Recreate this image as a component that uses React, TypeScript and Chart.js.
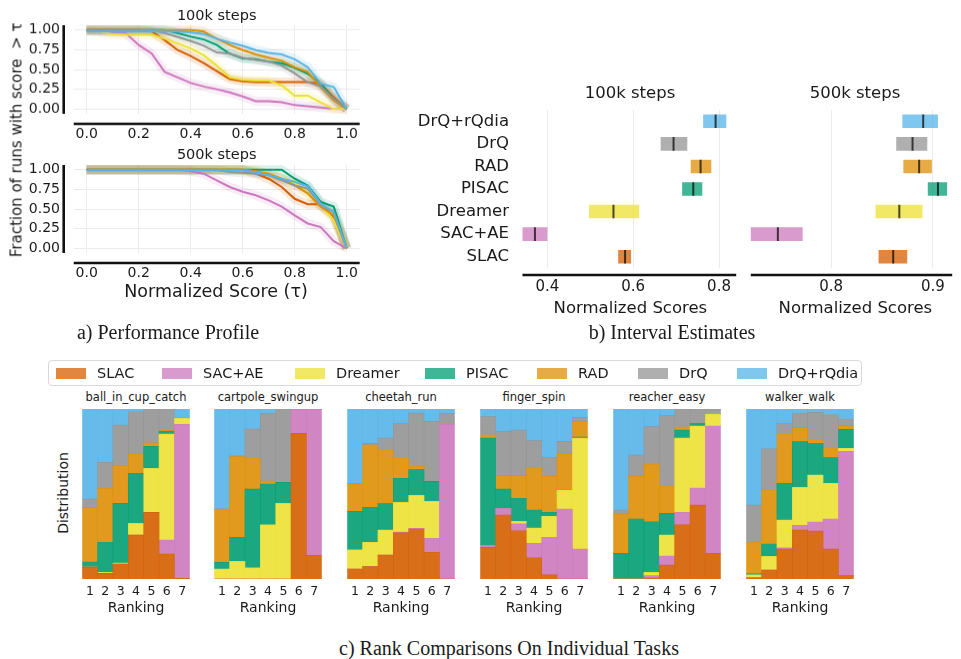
import React, { useEffect, useRef } from 'react';
import { Chart, registerables } from 'chart.js';

Chart.register(...registerables);
Chart.defaults.font.family = 'DejaVu Sans';
Chart.defaults.color = '#1a1a1a';

// ---------------- data ----------------
const ALGOS = ['SLAC', 'SAC+AE', 'Dreamer', 'PISAC', 'RAD', 'DrQ', 'DrQ+rQdia'];
const BASE_COLORS = ['#d55e00', '#cc78bc', '#ece133', '#029e73', '#de8f05', '#949494', '#56b4e9'];

// Performance profiles
const TAU = [0, 0.05, 0.1, 0.15, 0.2, 0.25, 0.3, 0.35, 0.4, 0.45, 0.5, 0.55, 0.6, 0.65, 0.7, 0.75, 0.8, 0.85, 0.9, 0.95, 1.0];
const PROFILE_X_TICKS = [0, 0.2, 0.4, 0.6, 0.8, 1.0];
const PROFILE_Y_TICKS = [0, 0.25, 0.5, 0.75, 1.0];

const P100K_SLAC = [1, 1, 1, 1, 1, 0.98, 0.87, 0.745, 0.67, 0.58, 0.48, 0.38, 0.35, 0.34, 0.34, 0.34, 0.34, 0.34, 0.32, 0.15, 0];
const P100K_SACAE = [1, 0.98, 0.97, 0.96, 0.81, 0.7, 0.47, 0.4, 0.33, 0.285, 0.25, 0.21, 0.16, 0.1, 0.1, 0.085, 0.05, 0.035, 0.02, 0.005, 0];
const P100K_DREAMER = [0.99, 0.98, 0.945, 0.94, 0.94, 0.94, 0.89, 0.83, 0.765, 0.68, 0.55, 0.4, 0.37, 0.36, 0.36, 0.3, 0.17, 0.17, 0.085, 0, 0];
const P100K_PISAC = [1, 1, 1, 1, 1, 1, 1, 0.96, 0.915, 0.88, 0.81, 0.7, 0.64, 0.63, 0.6, 0.58, 0.52, 0.445, 0.32, 0.13, 0];
const P100K_RAD = [1, 1, 1, 1, 1, 1, 1, 1, 1, 0.98, 0.89, 0.81, 0.745, 0.69, 0.65, 0.61, 0.53, 0.47, 0.28, 0.11, 0];
const P100K_DRQ = [1, 1, 1, 1, 1, 1, 0.96, 0.91, 0.86, 0.8, 0.715, 0.7, 0.65, 0.62, 0.6, 0.55, 0.45, 0.34, 0.285, 0.13, 0];
const P100K_RQDIA = [0.98, 0.98, 0.98, 0.98, 0.98, 0.98, 0.98, 0.98, 0.97, 0.95, 0.89, 0.84, 0.8, 0.745, 0.71, 0.69, 0.63, 0.53, 0.32, 0.28, 0];

const P500K_SLAC = [1, 1, 1, 1, 1, 1, 1, 1, 1, 1, 1, 1, 1, 0.95, 0.885, 0.78, 0.63, 0.56, 0.56, 0.4, 0];
const P500K_SACAE = [1, 1, 1, 1, 1, 1, 1, 1, 0.98, 0.95, 0.865, 0.78, 0.72, 0.675, 0.61, 0.53, 0.42, 0.316, 0.27, 0.09, 0];
const P500K_DREAMER = [1, 1, 1, 1, 1, 1, 1, 1, 1, 1, 1, 1, 1, 1, 0.95, 0.885, 0.845, 0.7, 0.55, 0.36, 0];
const P500K_PISAC = [1, 1, 1, 1, 1, 1, 1, 1, 1, 1, 1, 1, 1, 1, 1, 1, 0.885, 0.8, 0.59, 0.53, 0];
const P500K_RAD = [1, 1, 1, 1, 1, 1, 1, 1, 1, 1, 1, 1, 1, 0.98, 0.95, 0.885, 0.8, 0.7, 0.53, 0.42, 0];
const P500K_DRQ = [1, 1, 1, 1, 1, 1, 1, 1, 1, 1, 1, 0.97, 0.96, 0.95, 0.93, 0.865, 0.8, 0.76, 0.55, 0.46, 0];
const P500K_RQDIA = [0.99, 0.99, 0.99, 0.99, 0.99, 0.99, 0.99, 0.99, 0.99, 0.99, 0.99, 0.99, 0.99, 0.97, 0.93, 0.885, 0.845, 0.79, 0.57, 0.46, 0];

// Interval estimates (ALGOS order)
const IE100K_LO = [0.565, 0.335, 0.497, 0.714, 0.734, 0.664, 0.763];
const IE100K_HI = [0.595, 0.4, 0.614, 0.761, 0.782, 0.726, 0.817];
const IE100K_MED = [0.581, 0.371, 0.554, 0.74, 0.757, 0.694, 0.792];
const IE500K_LO = [0.8466, 0.715, 0.8436, 0.895, 0.871, 0.864, 0.87];
const IE500K_HI = [0.8748, 0.772, 0.8898, 0.914, 0.899, 0.8945, 0.905];
const IE500K_MED = [0.861, 0.7476, 0.867, 0.905, 0.8865, 0.88, 0.8905];
const IE100K_TICKS = [0.4, 0.6, 0.8];
const IE500K_TICKS = [0.8, 0.9];

// Rank distributions: per algorithm (ALGOS order), probability of rank 1..7
const RANK_LABELS = ['1', '2', '3', '4', '5', '6', '7'];
const TASKS = ['ball_in_cup_catch', 'cartpole_swingup', 'cheetah_run', 'finger_spin', 'reacher_easy', 'walker_walk'];

const RANK_BALL_IN_CUP_CATCH = [
  [0.07, 0.033, 0.088, 0.259, 0.392, 0.147, 0.004],
  [0, 0, 0, 0, 0, 0.082, 0.906],
  [0, 0.006, 0.006, 0.068, 0.259, 0.624, 0.037],
  [0.03, 0.177, 0.351, 0.295, 0.129, 0.016, 0],
  [0.32, 0.317, 0.222, 0.117, 0.02, 0.004, 0],
  [0.05, 0.153, 0.239, 0.245, 0.2, 0.129, 0],
  [0.53, 0.314, 0.094, 0.016, 0, 0, 0.053],
];
const RANK_CARTPOLE_SWINGUP = [
  [0, 0, 0, 0, 0, 0.857, 0.139],
  [0, 0, 0, 0, 0, 0.143, 0.861],
  [0.059, 0.104, 0.065, 0.318, 0.445, 0, 0],
  [0.039, 0.141, 0.464, 0.241, 0.124, 0, 0],
  [0.314, 0.475, 0.183, 0.017, 0, 0, 0],
  [0, 0.005, 0.17, 0.399, 0.431, 0, 0],
  [0.588, 0.275, 0.118, 0.025, 0, 0, 0],
];
const RANK_CHEETAH_RUN = [
  [0.059, 0.073, 0.141, 0.271, 0.294, 0.157, 0],
  [0, 0, 0, 0.005, 0.004, 0.082, 0.912],
  [0.112, 0.143, 0.147, 0.175, 0.194, 0.218, 0],
  [0.227, 0.206, 0.155, 0.141, 0.151, 0.118, 0],
  [0.165, 0.366, 0.316, 0.124, 0.02, 0, 0],
  [0, 0.01, 0.07, 0.2, 0.313, 0.352, 0.063],
  [0.437, 0.202, 0.171, 0.084, 0.024, 0.073, 0.025],
];
const RANK_FINGER_SPIN = [
  [0.186, 0.376, 0.284, 0.124, 0.024, 0, 0],
  [0.012, 0.04, 0.04, 0.086, 0.221, 0.412, 0.176],
  [0, 0, 0.015, 0.09, 0.124, 0.112, 0.653],
  [0.631, 0.113, 0.136, 0.106, 0.023, 0.003, 0.006],
  [0.018, 0.079, 0.133, 0.247, 0.212, 0.212, 0.092],
  [0.108, 0.259, 0.268, 0.161, 0.112, 0.071, 0.024],
  [0.045, 0.133, 0.124, 0.186, 0.284, 0.19, 0.049],
];
const RANK_REACHER_EASY = [
  [0, 0, 0.006, 0.082, 0.318, 0.435, 0.151],
  [0, 0, 0.014, 0.053, 0.074, 0.1, 0.749],
  [0, 0, 0.019, 0.124, 0.437, 0.365, 0.071],
  [0.151, 0.353, 0.298, 0.127, 0.047, 0.014, 0],
  [0.231, 0.251, 0.339, 0.161, 0.018, 0, 0],
  [0.024, 0.125, 0.22, 0.414, 0.106, 0.086, 0.029],
  [0.594, 0.271, 0.104, 0.039, 0, 0, 0],
];
const RANK_WALKER_WALK = [
  [0.006, 0.053, 0.176, 0.288, 0.282, 0.176, 0.02],
  [0.004, 0, 0.008, 0.028, 0.053, 0.177, 0.731],
  [0.014, 0.08, 0.163, 0.223, 0.277, 0.21, 0.018],
  [0.007, 0.073, 0.216, 0.269, 0.184, 0.151, 0.111],
  [0.185, 0.318, 0.29, 0.084, 0.026, 0.061, 0.024],
  [0.219, 0.241, 0.063, 0.083, 0.158, 0.19, 0.037],
  [0.565, 0.235, 0.084, 0.025, 0.02, 0.035, 0.059],
];

// ---------------- helpers ----------------
function rgba(hex: string, a: number) {
  const n = parseInt(hex.slice(1), 16);
  return `rgba(${(n >> 16) & 255},${(n >> 8) & 255},${n & 255},${a})`;
}

const GRID = '#ebebeb';
const SPINE = '#111111';

function spinePlugin(xOffset: number | null, yOffset: number | null) {
  return {
    id: 'spines',
    afterDraw(chart: any) {
      const { ctx, chartArea: a } = chart;
      ctx.save();
      ctx.strokeStyle = SPINE;
      ctx.lineWidth = 2.6;
      if (yOffset !== null) {
        ctx.beginPath();
        ctx.moveTo(a.left - yOffset, a.top);
        ctx.lineTo(a.left - yOffset, a.bottom);
        ctx.stroke();
      }
      if (xOffset !== null) {
        ctx.beginPath();
        ctx.moveTo(a.left, a.bottom + xOffset);
        ctx.lineTo(a.right, a.bottom + xOffset);
        ctx.stroke();
      }
      ctx.restore();
    },
  };
}

function profileConfig(series: number[][]): any {
  const lines = series.map((vals, i) => ({
    type: 'line',
    data: TAU.map((t, j) => ({ x: t, y: vals[j] })),
    borderColor: BASE_COLORS[i],
    borderWidth: 2,
    pointRadius: 0,
    tension: 0,
    order: ALGOS.length - i,
  }));
  const bands = series.map((vals, i) => ({
    type: 'line',
    data: TAU.map((t, j) => ({ x: t, y: vals[j] })),
    borderColor: rgba(BASE_COLORS[i], 0.14),
    borderWidth: 9,
    borderJoinStyle: 'round',
    pointRadius: 0,
    tension: 0,
    order: 100,
  }));
  return {
    type: 'line',
    data: { datasets: [...lines, ...bands] },
    options: {
      animation: false,
      responsive: false,
      devicePixelRatio: 1,
      layout: { padding: { left: 0, right: 20.3, top: 23, bottom: 0 } },
      plugins: { legend: { display: false }, tooltip: { enabled: false } },
      scales: {
        x: {
          type: 'linear',
          min: -0.05,
          max: 1.05,
          afterBuildTicks: (s: any) => { s.ticks = PROFILE_X_TICKS.map((v) => ({ value: v })); },
          ticks: { callback: (v: any) => Number(v).toFixed(1), font: { size: 14 }, padding: 12, maxRotation: 0, autoSkip: false },
          grid: { color: GRID, drawTicks: false },
          border: { display: false },
          afterFit: (s: any) => { s.height = 32; },
        },
        y: {
          type: 'linear',
          min: -0.06,
          max: 1.06,
          afterBuildTicks: (s: any) => { s.ticks = PROFILE_Y_TICKS.map((v) => ({ value: v })); },
          ticks: { callback: (v: any) => Number(v).toFixed(2), font: { size: 14 }, padding: 13.7, autoSkip: false },
          grid: { color: GRID, drawTicks: false },
          border: { display: false },
          afterFit: (s: any) => { s.width = 73.7; },
        },
      },
    },
    plugins: [spinePlugin(10, 10)],
  };
}

function intervalConfig(lo: number[], hi: number[], med: number[], xmin: number, xmax: number, xticks: number[], showY: boolean, padL: number, padR: number): any {
  return {
    type: 'bar',
    data: {
      labels: ALGOS,
      datasets: [
        {
          type: 'scatter',
          data: ALGOS.map((a, i) => ({ x: med[i], y: a })),
          pointStyle: 'line',
          rotation: 90,
          radius: 6.8,
          borderWidth: 2,
          borderColor: 'rgba(0,0,0,0.7)',
          backgroundColor: 'rgba(0,0,0,0.7)',
          order: 0,
        },
        {
          type: 'bar',
          indexAxis: 'y',
          data: ALGOS.map((_, i) => [lo[i], hi[i]]),
          backgroundColor: BASE_COLORS.map((c) => rgba(c, 0.75)),
          borderWidth: 0,
          barPercentage: 0.6,
          categoryPercentage: 1,
          order: 1,
        },
      ],
    },
    options: {
      animation: false,
      responsive: false,
      devicePixelRatio: 1,
      indexAxis: 'y',
      layout: { padding: { left: padL, right: padR, top: 24, bottom: 0 } },
      plugins: { legend: { display: false }, tooltip: { enabled: false } },
      scales: {
        x: {
          type: 'linear',
          position: 'bottom',
          min: xmin,
          max: xmax,
          afterBuildTicks: (s: any) => { s.ticks = xticks.map((v) => ({ value: v })); },
          ticks: { callback: (v: any) => Number(v).toFixed(1), font: { size: 15 }, padding: 10, maxRotation: 0, autoSkip: false },
          grid: { color: GRID, drawTicks: false },
          border: { display: false },
          afterFit: (s: any) => { s.height = 48; },
        },
        y: {
          type: 'category',
          reverse: true,
          offset: true,
          display: showY,
          grid: { display: false, drawTicks: false },
          border: { display: false },
          ticks: { font: { size: 16.5 }, padding: 13.5, autoSkip: false },
          afterFit: (s: any) => { if (showY) s.width = 122.5; },
        },
      },
    },
    plugins: [spinePlugin(7, null)],
  };
}

function rankConfig(dist: number[][]): any {
  return {
    type: 'bar',
    data: {
      labels: RANK_LABELS,
      datasets: ALGOS.map((a, i) => ({
        label: a,
        data: dist[i],
        backgroundColor: rgba(BASE_COLORS[i], 0.9),
        borderWidth: 0,
        barPercentage: 1,
        categoryPercentage: 1,
      })),
    },
    options: {
      animation: false,
      responsive: false,
      devicePixelRatio: 1,
      layout: { padding: 0 },
      plugins: { legend: { display: false }, tooltip: { enabled: false } },
      scales: {
        x: {
          stacked: true,
          grid: { display: false, drawTicks: false },
          border: { display: false },
          ticks: { font: { size: 12.5 }, padding: 5, maxRotation: 0, autoSkip: false },
          afterFit: (s: any) => { s.height = 22; },
        },
        y: { stacked: true, display: false, min: 0, max: 1 },
      },
    },
  };
}

// ---------------- components ----------------
function ChartBox({ left, top, width, height, make }: { left: number; top: number; width: number; height: number; make: () => any }) {
  const ref = useRef<HTMLCanvasElement>(null);
  useEffect(() => {
    const chart = new Chart(ref.current as HTMLCanvasElement, make());
    return () => chart.destroy();
  }, []);
  return (
    <div style={{ position: 'absolute', left, top, width, height }}>
      <canvas ref={ref} width={width} height={height} style={{ width, height, display: 'block' }} />
    </div>
  );
}

function Txt({ x, y, size, children, rotate, serif }: { x: number; y: number; size: number; children: any; rotate?: number; serif?: boolean }) {
  return (
    <div
      style={{
        position: 'absolute',
        left: x,
        top: y,
        transform: `translate(-50%, -50%)${rotate ? ` rotate(${rotate}deg)` : ''}`,
        fontSize: size,
        fontFamily: serif ? '"Liberation Serif", serif' : '"DejaVu Sans", sans-serif',
        whiteSpace: 'pre',
        color: '#1a1a1a',
        lineHeight: 1,
      }}
    >
      {children}
    </div>
  );
}

const LEGEND_PATCH_X = [56, 162, 295, 425, 537, 638, 737];
const RANK_CHART_X = [81, 213, 346, 479, 612, 745];
const RANK_DATA = [RANK_BALL_IN_CUP_CATCH, RANK_CARTPOLE_SWINGUP, RANK_CHEETAH_RUN, RANK_FINGER_SPIN, RANK_REACHER_EASY, RANK_WALKER_WALK];

export default function App() {
  return (
    <div style={{ position: 'absolute', left: 0, top: 0, width: 961, height: 659, background: '#fff', overflow: 'hidden' }}>
      {/* Panel a */}
      <ChartBox left={0} top={2.3} width={380} height={143.4}
        make={() => profileConfig([P100K_SLAC, P100K_SACAE, P100K_DREAMER, P100K_PISAC, P100K_RAD, P100K_DRQ, P100K_RQDIA])} />
      <ChartBox left={0} top={141.6} width={380} height={143.4}
        make={() => profileConfig([P500K_SLAC, P500K_SACAE, P500K_DREAMER, P500K_PISAC, P500K_RAD, P500K_DRQ, P500K_RQDIA])} />
      <Txt x={216.7} y={15} size={14.5}>100k steps</Txt>
      <Txt x={216.7} y={154} size={14.5}>500k steps</Txt>
      <Txt x={216} y={292} size={17.5}>Normalized Score (τ)</Txt>
      <Txt x={17} y={140} size={15} rotate={-90}>{'Fraction of runs with score  > τ'}</Txt>

      {/* Panel b */}
      <ChartBox left={400} top={85.7} width={345} height={230}
        make={() => intervalConfig(IE100K_LO, IE100K_HI, IE100K_MED, 0.342, 0.84, IE100K_TICKS, true, 0, 6.8)} />
      <ChartBox left={742} top={85.7} width={219} height={230}
        make={() => intervalConfig(IE500K_LO, IE500K_HI, IE500K_MED, 0.721, 0.919, IE500K_TICKS, false, 5.5, 3)} />
      <Txt x={630} y={93} size={16.5}>100k steps</Txt>
      <Txt x={855} y={93} size={16.5}>500k steps</Txt>
      <Txt x={630.4} y={307.5} size={16.5}>Normalized Scores</Txt>
      <Txt x={855.4} y={307.5} size={16.5}>Normalized Scores</Txt>

      {/* captions */}
      <Txt x={168} y={332} size={20} serif>a) Performance Profile</Txt>
      <Txt x={672} y={332} size={20} serif>b) Interval Estimates</Txt>
      <Txt x={509} y={648} size={20} serif>c) Rank Comparisons On Individual Tasks</Txt>

      {/* Panel c legend */}
      <div style={{ position: 'absolute', left: 48, top: 360, width: 814, height: 26, border: '1px solid #d9d9d9', borderRadius: 4, boxSizing: 'border-box', background: '#fff' }} />
      {ALGOS.map((a, i) => (
        <React.Fragment key={a}>
          <div style={{ position: 'absolute', left: LEGEND_PATCH_X[i], top: 367.5, width: 30, height: 11, background: rgba(BASE_COLORS[i], 0.75) }} />
          <div style={{ position: 'absolute', left: LEGEND_PATCH_X[i] + 41, top: 373, transform: 'translateY(-50%)', fontSize: 14.5, fontFamily: '"DejaVu Sans", sans-serif', color: '#1a1a1a', lineHeight: 1, whiteSpace: 'pre' }}>{a}</div>
        </React.Fragment>
      ))}

      {/* Panel c charts */}
      {TASKS.map((t, k) => (
        <React.Fragment key={t}>
          <ChartBox left={RANK_CHART_X[k]} top={409} width={110} height={192} make={() => rankConfig(RANK_DATA[k])} />
          <Txt x={RANK_CHART_X[k] + 55} y={398.3} size={11.5}>{t}</Txt>
          <Txt x={RANK_CHART_X[k] + 55} y={606.7} size={14}>Ranking</Txt>
        </React.Fragment>
      ))}
      <Txt x={63} y={493} size={14} rotate={-90}>Distribution</Txt>
    </div>
  );
}
